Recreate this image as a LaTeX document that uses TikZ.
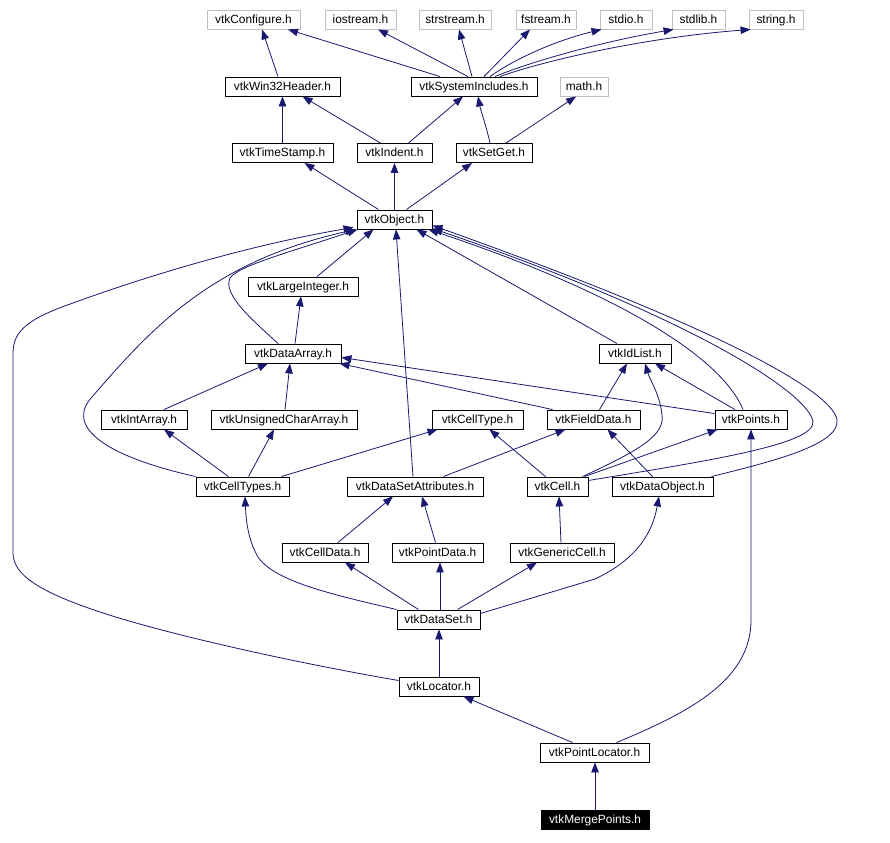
\documentclass[tikz,border=0pt]{standalone}
\usepackage{fontspec}
\setmainfont{Liberation Sans}
\usetikzlibrary{arrows.meta}
\definecolor{edgeblue}{HTML}{191970}
\definecolor{lightframe}{HTML}{BFBFBF}
\begin{document}
\begin{tikzpicture}[x=1pt,y=-1pt,
  box/.style={draw=black,line width=0.9pt,rectangle,minimum height=19pt,inner sep=0pt,
    text height=8.6pt,text depth=0.6pt,
    font=\fontsize{11.9}{14}\selectfont,text=black},
  sysbox/.style={box,draw=lightframe},
  selbox/.style={box,fill=black,text=white},
  edge/.style={draw=edgeblue,line width=0.8pt,-{Triangle[length=10pt,width=7.5pt]}}]
\useasboundingbox[fill=white] (0,0) rectangle (890,842);
% row 1
\node[sysbox,minimum width=93pt] (cfg) at (253.5,19.5) {vtkConfigure.h};
\node[sysbox,minimum width=71pt] (ios) at (360.5,19.5) {iostream.h};
\node[sysbox,minimum width=72pt] (strs) at (455,19.5) {strstream.h};
\node[sysbox,minimum width=60pt] (fstr) at (546,19.5) {fstream.h};
\node[sysbox,minimum width=52pt] (stdio) at (626,19.5) {stdio.h};
\node[sysbox,minimum width=53pt] (stdlib) at (698.5,19.5) {stdlib.h};
\node[sysbox,minimum width=54pt] (string) at (776,19.5) {string.h};
% row 2
\node[box,minimum width=115pt] (win) at (282.5,86.5) {vtkWin32Header.h};
\node[box,minimum width=126pt] (sys) at (474,86.5) {vtkSystemIncludes.h};
\node[sysbox,minimum width=48pt] (math) at (584,86.5) {math.h};
% row 3
\node[box,minimum width=101pt] (ts) at (282.5,153) {vtkTimeStamp.h};
\node[box,minimum width=75pt] (ind) at (394.5,153) {vtkIndent.h};
\node[box,minimum width=76pt] (sg) at (494,153) {vtkSetGet.h};
% row 4
\node[box,minimum width=75pt] (obj) at (394.5,219.5) {vtkObject.h};
% row 5
\node[box,minimum width=110pt] (li) at (303,286.5) {vtkLargeInteger.h};
% row 6
\node[box,minimum width=96pt] (da) at (293,353.5) {vtkDataArray.h};
\node[box,minimum width=72pt] (idl) at (635,353.5) {vtkIdList.h};
% row 7
\node[box,minimum width=86pt] (ia) at (144,419.5) {vtkIntArray.h};
\node[box,minimum width=146pt] (uca) at (284,419.5) {vtkUnsignedCharArray.h};
\node[box,minimum width=91pt] (ct) at (477.5,419.5) {vtkCellType.h};
\node[box,minimum width=93pt] (fd) at (593.5,419.5) {vtkFieldData.h};
\node[box,minimum width=72pt] (pts) at (751,419.5) {vtkPoints.h};
% row 8
\node[box,minimum width=93pt] (cts) at (242.5,486.5) {vtkCellTypes.h};
\node[box,minimum width=136pt] (dsa) at (415,486.5) {vtkDataSetAttributes.h};
\node[box,minimum width=61pt] (cell) at (557.5,486.5) {vtkCell.h};
\node[box,minimum width=101pt] (dob) at (662.5,486.5) {vtkDataObject.h};
% row 9
\node[box,minimum width=86pt] (cd) at (325,552.5) {vtkCellData.h};
\node[box,minimum width=91pt] (pd) at (437.5,552.5) {vtkPointData.h};
\node[box,minimum width=104pt] (gc) at (562,552.5) {vtkGenericCell.h};
% rows 10-13
\node[box,minimum width=83pt] (ds) at (438.5,619.5) {vtkDataSet.h};
\node[box,minimum width=80pt] (loc) at (439,686.5) {vtkLocator.h};
\node[box,minimum width=109pt] (pl) at (594.5,752.5) {vtkPointLocator.h};
\node[selbox,minimum width=108pt] (mp) at (595,819.5) {vtkMergePoints.h};

% ---- edges (arrow points at the included file) ----
\draw[edge] ([xshift=-4.5pt]win.north) -- ([xshift=8.5pt]cfg.south);
\draw[edge] ([xshift=-34pt]sys.north) -- ([xshift=34.5pt]cfg.south);
\draw[edge] ([xshift=-6pt]sys.north) -- ([xshift=17.5pt]ios.south);
\draw[edge] ([xshift=-2pt]sys.north) -- ([xshift=4pt]strs.south);
\draw[edge] ([xshift=10pt]sys.north) -- ([xshift=-16pt]fstr.south);
\draw[edge] ([xshift=16pt]sys.north) .. controls (510,62) and (550,42) .. ([xshift=2pt]stdio.south west);
\draw[edge] ([xshift=21pt]sys.north) .. controls (530,62) and (600,42) .. ([xshift=2pt]stdlib.south west);
\draw[edge] ([xshift=26pt]sys.north) .. controls (540,62) and (640,38) .. ([xshift=2pt]string.south west);

\draw[edge] (ts.north) -- (win.south);
\draw[edge] ([xshift=-14pt]ind.north) -- ([xshift=20pt]win.south);
\draw[edge] ([xshift=14pt]ind.north) -- ([xshift=-11pt]sys.south);
\draw[edge] ([xshift=-4pt]sg.north) .. controls (486,125) and (481,112) .. ([xshift=4pt]sys.south);
\draw[edge] ([xshift=12pt]sg.north) -- ([xshift=-8pt]math.south);

\draw[edge] ([xshift=-16pt]obj.north) -- ([xshift=22pt]ts.south);
\draw[edge] (obj.north) -- (ind.south);
\draw[edge] ([xshift=12pt]obj.north) -- ([xshift=-22pt]sg.south);

\draw[edge] ([xshift=14pt]li.north) -- ([xshift=-21pt]obj.south);
\draw[edge] ([xshift=-15pt]da.north) .. controls (255,322) and (222,295) .. (230,278)
   .. controls (238,266) and (290,252) .. ([xshift=1pt]obj.south west);
\draw[edge] ([xshift=2pt]da.north) -- ([xshift=-2pt]li.south);
\draw[edge] ([xshift=20pt]ia.north) -- ([xshift=-25pt]da.south);
\draw[edge] ([xshift=1pt]uca.north) -- ([xshift=-3pt]da.south);
\draw[edge] ([xshift=6pt]fd.north west) -- ([xshift=-2pt]da.south east);
\draw[edge] ([yshift=-4pt]pts.north west) -- ([yshift=-4pt]da.east);

\draw[edge] ([xshift=-18pt]idl.north) -- ([xshift=22pt]obj.south);
\draw[edge] ([xshift=6pt]fd.north) -- ([xshift=-8pt]idl.south);
\draw[edge] ([xshift=25pt]cell.north) .. controls (640,450) and (665,435) .. (662,415)
   .. controls (660,395) and (650,380) .. ([xshift=10pt]idl.south);
\draw[edge] ([xshift=-16pt]pts.north) -- ([xshift=20pt]idl.south);
\draw[edge] ([xshift=-8pt]pts.north) .. controls (725,365) and (640,300) .. ([xshift=-4pt]obj.south east);

\draw[edge] (cts.north west) .. controls (100,455) and (66,425) .. (92,397)
   .. controls (150,330) and (210,262) .. ([xshift=-1pt]obj.south west);
\draw[edge] ([xshift=-14pt]cts.north) -- ([xshift=20pt]ia.south);
\draw[edge] ([xshift=6pt]cts.north) -- ([xshift=-10pt]uca.south);
\draw[edge] ([xshift=-8pt]cts.north east) -- ([xshift=6pt]ct.south west);

\draw[edge] ([xshift=-2pt]dsa.north) -- ([xshift=1.5pt]obj.south);
\draw[edge] ([xshift=-40pt]dsa.north east) -- ([xshift=-28pt]fd.south);

\draw[edge] ([xshift=-12pt]cell.north) -- ([xshift=12pt]ct.south);
\draw[edge] ([xshift=-4pt]cell.north east) -- ([xshift=3pt]pts.south west);
\draw[edge] ([yshift=6pt]cell.east) .. controls (700,462) and (815,445) .. (813,422)
   .. controls (810,395) and (700,320) .. ([yshift=1pt]obj.south east);

\draw[edge] ([xshift=-10pt]dob.north) -- ([xshift=14pt]fd.south);
\draw[edge] ([xshift=-2pt]dob.north east) .. controls (770,462) and (840,445) .. (837,420)
   .. controls (834,395) and (740,335) .. ([yshift=4pt]obj.south east);

\draw[edge] ([xshift=13pt]cd.north) -- ([xshift=-22pt]dsa.south);
\draw[edge] ([xshift=-2pt]pd.north) -- ([xshift=7pt]dsa.south);
\draw[edge] ([xshift=-1pt]gc.north) -- ([xshift=1.5pt]cell.south);

\draw[edge] (ds.north west) .. controls (335,595) and (275,582) .. (258,557)
   .. controls (248,540) and (246,520) .. ([xshift=2.5pt]cts.south);
\draw[edge] ([xshift=-20pt]ds.north) -- ([xshift=20pt]cd.south);
\draw[edge] ([xshift=1.5pt]ds.north) -- ([xshift=2.5pt]pd.south);
\draw[edge] ([xshift=19pt]ds.north) -- ([xshift=-25pt]gc.south);
\draw[edge] ([yshift=6pt]ds.east) -- (595,579) .. controls (635,560) and (652,535) .. ([xshift=-3.5pt]dob.south);

\draw[edge] (loc.north) -- (loc.north |- ds.south);
\draw[edge] ([yshift=6pt]loc.west) .. controls (280,660) and (160,632) .. (100,612)
   .. controls (40,592) and (13,575) .. (13,553) -- (13,353)
   .. controls (13,330) and (30,318) .. (73,303)
   .. controls (150,275) and (250,245) .. ([xshift=-3pt,yshift=2pt]obj.south west);

\draw[edge] ([xshift=-22pt]pl.north) -- ([xshift=-16pt]loc.south east);
\draw[edge] ([xshift=22pt]pl.north) .. controls (690,712) and (751,680) .. (751,620) -- (pts.south);
\draw[edge] (mp.north) -- (mp.north |- pl.south);
\end{tikzpicture}
\end{document}
